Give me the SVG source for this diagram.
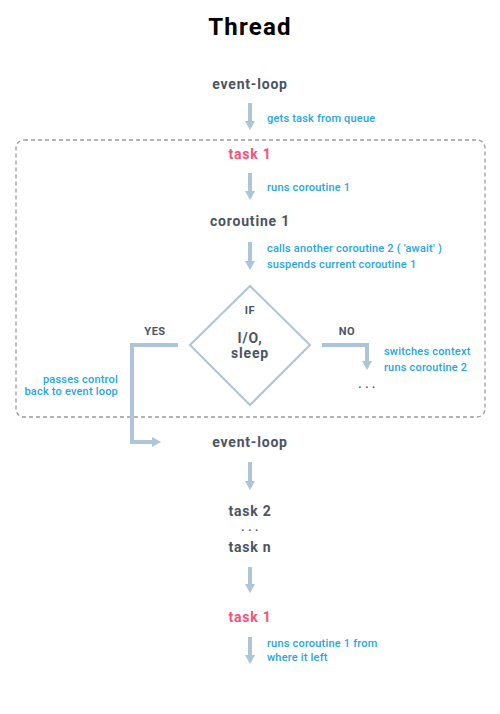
<svg xmlns="http://www.w3.org/2000/svg" width="500" height="714" viewBox="0 0 500 714">
<style>
.title{font-family:Roboto,"Liberation Sans",sans-serif;font-weight:700;font-size:24px;fill:#000;letter-spacing:1.2px}
.node{font-family:Roboto,"Liberation Sans",sans-serif;font-weight:700;font-size:14px;fill:#4a5462;letter-spacing:0.8px}
.pink{fill:#f4527c}
.lbl{font-family:Roboto,"Liberation Sans",sans-serif;font-weight:500;font-size:11px;fill:#27a6dd;letter-spacing:0.2px}
.sm{font-family:Roboto,"Liberation Sans",sans-serif;font-weight:700;font-size:11px;fill:#4a5462;letter-spacing:0.5px}
.conn{fill:none;stroke:#aec4d9;stroke-width:4}
</style>
<defs>
<marker id="ah" markerUnits="userSpaceOnUse" markerWidth="12" markerHeight="12" refX="5" refY="6" orient="auto">
<path d="M0,1 L9,6 L0,11 Z" fill="#aec4d9"/>
</marker>
</defs>
<rect width="500" height="714" fill="#fff"/>
<text class="title" x="250" y="35" text-anchor="middle">Thread</text>
<rect x="16" y="140" width="469" height="277" rx="8" fill="none" stroke="#9a9a9a" stroke-width="1.3" stroke-dasharray="4 3"/>
<g id="connectors">
<path class="conn" d="M250,103 V126" marker-end="url(#ah)"/>
<path class="conn" d="M250,173 V196" marker-end="url(#ah)"/>
<path class="conn" d="M250,242 V266" marker-end="url(#ah)"/>
<path class="conn" d="M178,345 H132 V442 H157" marker-end="url(#ah)"/>
<path class="conn" d="M322,345 H367 V366" marker-end="url(#ah)"/>
<path class="conn" d="M250,462 V486" marker-end="url(#ah)"/>
<path class="conn" d="M250,567 V589" marker-end="url(#ah)"/>
<path class="conn" d="M250,637 V660" marker-end="url(#ah)"/>
</g>
<g id="labels">
<text class="lbl" x="267" y="122">gets task from queue</text>
<text class="lbl" x="267" y="191">runs coroutine 1</text>
<text class="lbl" x="267" y="252">calls another coroutine 2 ( 'await' )</text>
<text class="lbl" x="267" y="268">suspends current coroutine 1</text>
<text class="sm" x="155" y="335" text-anchor="middle">YES</text>
<text class="sm" x="347" y="335" text-anchor="middle">NO</text>
<text class="lbl" x="384" y="355">switches context</text>
<text class="lbl" x="384" y="371">runs coroutine 2</text>
<text class="lbl" x="118" y="383" text-anchor="end">passes control</text>
<text class="lbl" x="118" y="395" text-anchor="end">back to event loop</text>
<text class="lbl" x="267" y="647">runs coroutine 1 from</text>
<text class="lbl" x="267" y="661">where it left</text>
</g>
<g id="event-loop-1"><text class="node" x="250" y="89" text-anchor="middle">event-loop</text></g>
<g id="task1-a"><text class="node pink" x="250" y="159" text-anchor="middle">task 1</text></g>
<g id="coroutine1"><text class="node" x="250" y="226" text-anchor="middle">coroutine 1</text></g>
<g id="decision">
<path d="M250,286 L310,345 L250,405 L190,345 Z" fill="none" stroke="#aec4d9" stroke-width="2"/>
<text class="sm" x="250" y="314" text-anchor="middle">IF</text>
<text class="node" x="250" y="343" text-anchor="middle">I/O,</text>
<text class="node" x="250" y="358" text-anchor="middle">sleep</text>
</g>
<g id="dots-no"><text class="sm" x="367" y="388" text-anchor="middle">. . .</text></g>
<g id="event-loop-2"><text class="node" x="250" y="447" text-anchor="middle">event-loop</text></g>
<g id="task2"><text class="node" x="250" y="516" text-anchor="middle">task 2</text></g>
<g id="dots-tasks"><text class="sm" x="250" y="531" text-anchor="middle">. . .</text></g>
<g id="taskn"><text class="node" x="250" y="552" text-anchor="middle">task n</text></g>
<g id="task1-b"><text class="node pink" x="250" y="622" text-anchor="middle">task 1</text></g>
</svg>
